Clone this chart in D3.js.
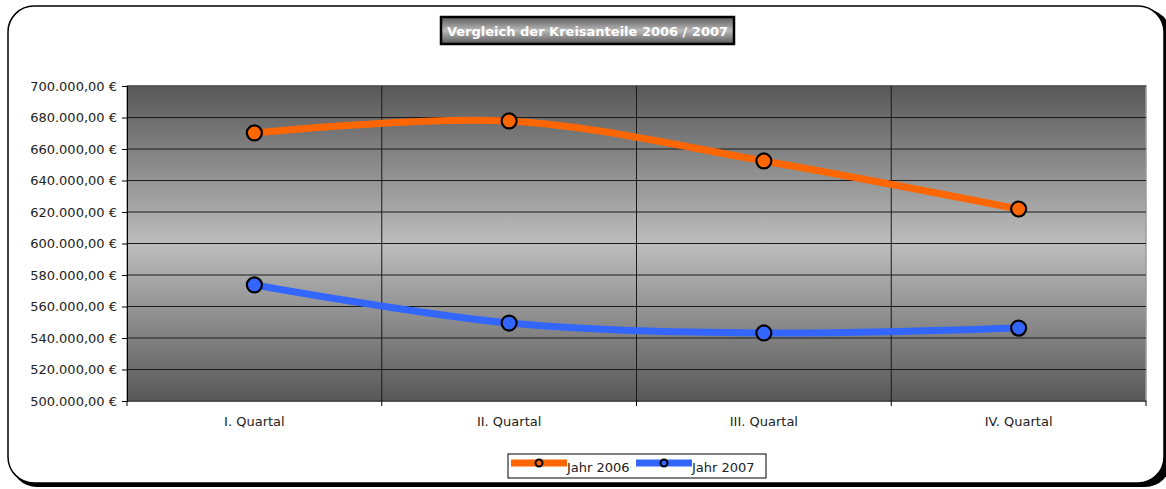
<!DOCTYPE html>
<html>
<head>
<meta charset="utf-8">
<script src="https://cdn.jsdelivr.net/npm/d3@7"></script>
<style>
  body { margin: 0; background: #fff; }
  text { font-family: "DejaVu Sans", Verdana, sans-serif; }
</style>
</head>
<body>
<div id="chart"></div>
<script>
// data
var categories = ["I. Quartal", "II. Quartal", "III. Quartal", "IV. Quartal"];
var jahr2006 = [670200, 677800, 652400, 621900];
var jahr2007 = [573700, 549500, 543200, 546300];
var seriesNames = ["Jahr 2006", "Jahr 2007"];
var seriesColors = ["#ff6600", "#3366ff"];
var yTicks = [500000, 520000, 540000, 560000, 580000, 600000, 620000, 640000, 660000, 680000, 700000];

var W = 1166, H = 489;
var margin = {top: 86, right: 20, bottom: 88, left: 127},
    width = 1146 - margin.left,
    height = 401 - margin.top;

var svg = d3.select("#chart").append("svg")
    .attr("width", W)
    .attr("height", H);

var defs = svg.append("defs");

// plot background gradient: dark - light - dark
var bg = defs.append("linearGradient")
    .attr("id", "plotbg").attr("x1", 0).attr("y1", 0).attr("x2", 0).attr("y2", 1);
bg.append("stop").attr("offset", "0%").attr("stop-color", "#585858");
bg.append("stop").attr("offset", "50%").attr("stop-color", "#bdbdbd");
bg.append("stop").attr("offset", "100%").attr("stop-color", "#585858");

var tg = defs.append("linearGradient")
    .attr("id", "titlebg").attr("x1", 0).attr("y1", 0).attr("x2", 0).attr("y2", 1);
tg.append("stop").attr("offset", "0%").attr("stop-color", "#5a5a5a");
tg.append("stop").attr("offset", "50%").attr("stop-color", "#b8b8b8");
tg.append("stop").attr("offset", "100%").attr("stop-color", "#5a5a5a");

// outer frame with shadow
svg.append("rect")
    .attr("x", 11).attr("y", 9).attr("width", 1160).attr("height", 478)
    .attr("rx", 26).attr("ry", 26)
    .attr("fill", "#000");
svg.append("rect")
    .attr("x", 8).attr("y", 6).attr("width", 1156).attr("height", 477)
    .attr("rx", 26).attr("ry", 26)
    .attr("fill", "#fff").attr("stroke", "#000").attr("stroke-width", 1.5);

// title box
var title = svg.append("g").attr("transform", "translate(441,17)");
title.append("rect")
    .attr("width", 293).attr("height", 27)
    .attr("fill", "url(#titlebg)")
    .attr("stroke", "#000").attr("stroke-width", 2.5);
title.append("text")
    .attr("x", 146.5).attr("y", 18.5)
    .attr("text-anchor", "middle")
    .attr("fill", "#fff")
    .attr("font-weight", "bold")
    .attr("font-size", 13)
    .text("Vergleich der Kreisanteile 2006 / 2007");

var g = svg.append("g").attr("transform", "translate(" + margin.left + "," + margin.top + ")");

var x = d3.scaleBand().domain(categories).range([0, width]);
var y = d3.scaleLinear().domain([500000, 700000]).range([height, 0]);

g.append("rect")
    .attr("width", width).attr("height", height)
    .attr("fill", "url(#plotbg)")
    .attr("stroke", "#9a9a9a").attr("stroke-width", 1.5);

// horizontal gridlines
g.append("g").selectAll("line")
    .data(yTicks.slice(1))
    .enter().append("line")
    .attr("x1", 0).attr("x2", width)
    .attr("y1", function(d) { return y(d); })
    .attr("y2", function(d) { return y(d); })
    .attr("stroke", "#1a1a1a").attr("stroke-width", 1);

// vertical gridlines at band boundaries
g.append("g").selectAll("line")
    .data(categories.slice(1))
    .enter().append("line")
    .attr("x1", function(d) { return x(d); })
    .attr("x2", function(d) { return x(d); })
    .attr("y1", 0).attr("y2", height)
    .attr("stroke", "#1a1a1a").attr("stroke-width", 1);

// y axis
var fmt = function(d) {
  var s = d3.format(",.2f")(d);
  return s.replace(/,/g, "#").replace(".", ",").replace(/#/g, ".") + " €";
};
var yAxis = g.append("g")
    .call(d3.axisLeft(y).tickValues(yTicks).tickFormat(fmt).tickSize(5).tickPadding(5));
yAxis.select(".domain").attr("stroke", "#000");
yAxis.selectAll("text").attr("font-size", 13).attr("fill", "#222");

// x axis (ticks at band boundaries)
var xAxis = g.append("g").attr("transform", "translate(0," + height + ")");
xAxis.append("line").attr("x1", 0).attr("x2", width).attr("stroke", "#000");
xAxis.selectAll(".tk")
    .data([0].concat(categories.slice(1).map(function(c) { return x(c); }), [width]))
    .enter().append("line")
    .attr("x1", function(d) { return d; }).attr("x2", function(d) { return d; })
    .attr("y1", 0).attr("y2", 5)
    .attr("stroke", "#000");
xAxis.selectAll(".lbl")
    .data(categories)
    .enter().append("text")
    .attr("x", function(d) { return x(d) + x.bandwidth() / 2; })
    .attr("y", 25)
    .attr("text-anchor", "middle")
    .attr("font-size", 13)
    .attr("fill", "#222")
    .text(function(d) { return d; });

// series lines
var line = d3.line()
    .x(function(d, i) { return x(categories[i]) + x.bandwidth() / 2; })
    .y(function(d) { return y(d); })
    .curve(d3.curveCatmullRom.alpha(0.5));

[jahr2006, jahr2007].forEach(function(vals, s) {
  g.append("path")
      .datum(vals)
      .attr("d", line)
      .attr("fill", "none")
      .attr("stroke", seriesColors[s])
      .attr("stroke-width", 7)
      .attr("stroke-linecap", "butt");
  g.append("g").selectAll("circle")
      .data(vals)
      .enter().append("circle")
      .attr("cx", function(d, i) { return x(categories[i]) + x.bandwidth() / 2; })
      .attr("cy", function(d) { return y(d); })
      .attr("r", 7.5)
      .attr("fill", seriesColors[s])
      .attr("stroke", "#000").attr("stroke-width", 2.2);
});

// legend
var legend = svg.append("g").attr("transform", "translate(508,454)");
legend.append("rect")
    .attr("width", 258).attr("height", 24)
    .attr("fill", "#fff").attr("stroke", "#000").attr("stroke-width", 1);
seriesNames.forEach(function(name, s) {
  var lx = 3 + s * 125;
  legend.append("line")
      .attr("x1", lx).attr("x2", lx + 56)
      .attr("y1", 9).attr("y2", 9)
      .attr("stroke", seriesColors[s]).attr("stroke-width", 7);
  legend.append("circle")
      .attr("cx", lx + 28).attr("cy", 9).attr("r", 3.5)
      .attr("fill", seriesColors[s]).attr("stroke", "#000").attr("stroke-width", 2);
  legend.append("text")
      .attr("x", lx + 56).attr("y", 17.5)
      .attr("font-size", 13)
      .attr("fill", "#222")
      .text(name);
});
</script>
</body>
</html>
